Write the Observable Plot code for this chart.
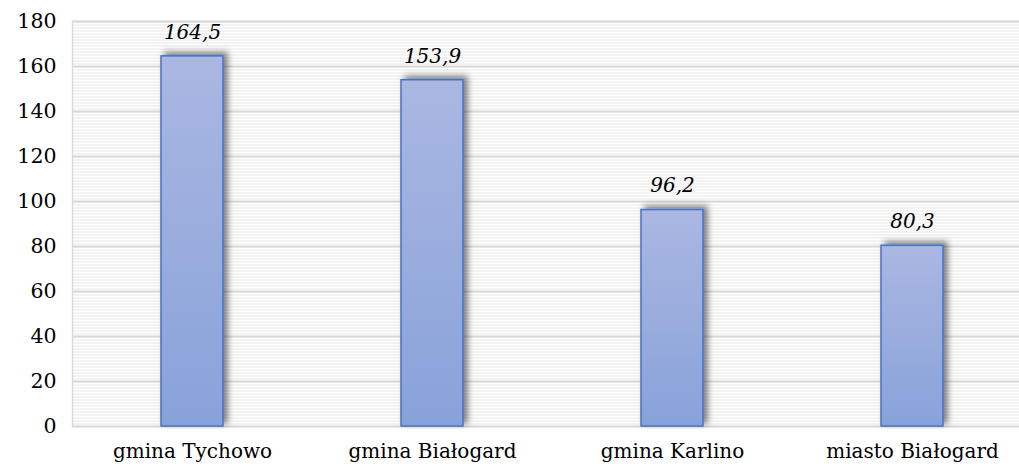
<!DOCTYPE html>
<html>
<head>
<meta charset="utf-8">
<script src="https://cdn.jsdelivr.net/npm/d3@7"></script>
<script src="https://cdn.jsdelivr.net/npm/@observablehq/plot@0.6"></script>
<style>
  html, body { margin: 0; padding: 0; background: #fff; overflow: hidden; }
  #chart svg { display: block; }
</style>
</head>
<body>
<div id="chart"></div>
<script>
const categories = ["gmina Tychowo", "gmina Białogard", "gmina Karlino", "miasto Białogard"];
const values = [164.5, 153.9, 96.2, 80.3];
const valueLabels = ["164,5", "153,9", "96,2", "80,3"];
const yTicks = [0, 20, 40, 60, 80, 100, 120, 140, 160, 180];

const data = categories.map((c, i) => ({category: c, value: values[i], label: valueLabels[i]}));

const chart = Plot.plot({
  width: 1019,
  height: 466,
  marginLeft: 72,
  marginRight: -13,
  marginTop: 21,
  marginBottom: 40,
  style: {fontFamily: "'DejaVu Serif', serif", fontSize: "20.5px", color: "#000", background: "transparent", overflow: "hidden"},
  x: {domain: categories, paddingInner: 0.742, paddingOuter: 0.371, label: null},
  y: {domain: [0, 180], ticks: yTicks, label: null},
  marks: [
    Plot.frame({fill: "url(#stripes)", stroke: "#d9d9d9", strokeWidth: 1.5}),
    Plot.ruleY(yTicks, {stroke: "#d9d9d9", strokeWidth: 2}),
    Plot.barY(data, {x: "category", y: "value", fill: "url(#barGrad)", stroke: "#4472c4", strokeWidth: 1.5}),
    Plot.text(data, {x: "category", y: "value", text: "label", dy: -24, fontStyle: "italic", fontSize: 20, fill: "#000"}),
    Plot.axisY(yTicks, {tickSize: 0, tickPadding: 16, fontSize: 20.5}),
    Plot.axisX({tickSize: 0, tickPadding: 17, fontSize: 20})
  ]
});

const svg = d3.select(chart);
const defs = svg.insert("defs", ":first-child");
const grad = defs.append("linearGradient").attr("id", "barGrad").attr("x1", 0).attr("y1", 0).attr("x2", 0).attr("y2", 1);
grad.append("stop").attr("offset", "0%").attr("stop-color", "#aab7e1");
grad.append("stop").attr("offset", "100%").attr("stop-color", "#88a2da");
const pat = defs.append("pattern").attr("id", "stripes").attr("patternUnits", "userSpaceOnUse").attr("width", 8).attr("height", 3);
pat.append("rect").attr("width", 8).attr("height", 3).attr("fill", "#ffffff");
pat.append("rect").attr("y", 0).attr("width", 8).attr("height", 1).attr("fill", "#e6e6e6");
const filt = defs.append("filter").attr("id", "shadow").attr("x", "-30%").attr("y", "-30%").attr("width", "160%").attr("height", "160%");
filt.append("feDropShadow").attr("dx", 4).attr("dy", -3).attr("stdDeviation", 3).attr("flood-color", "#000").attr("flood-opacity", 0.5);
svg.selectAll("g[aria-label='bar'] rect").attr("filter", "url(#shadow)");

document.getElementById("chart").appendChild(chart);
</script>
</body>
</html>
